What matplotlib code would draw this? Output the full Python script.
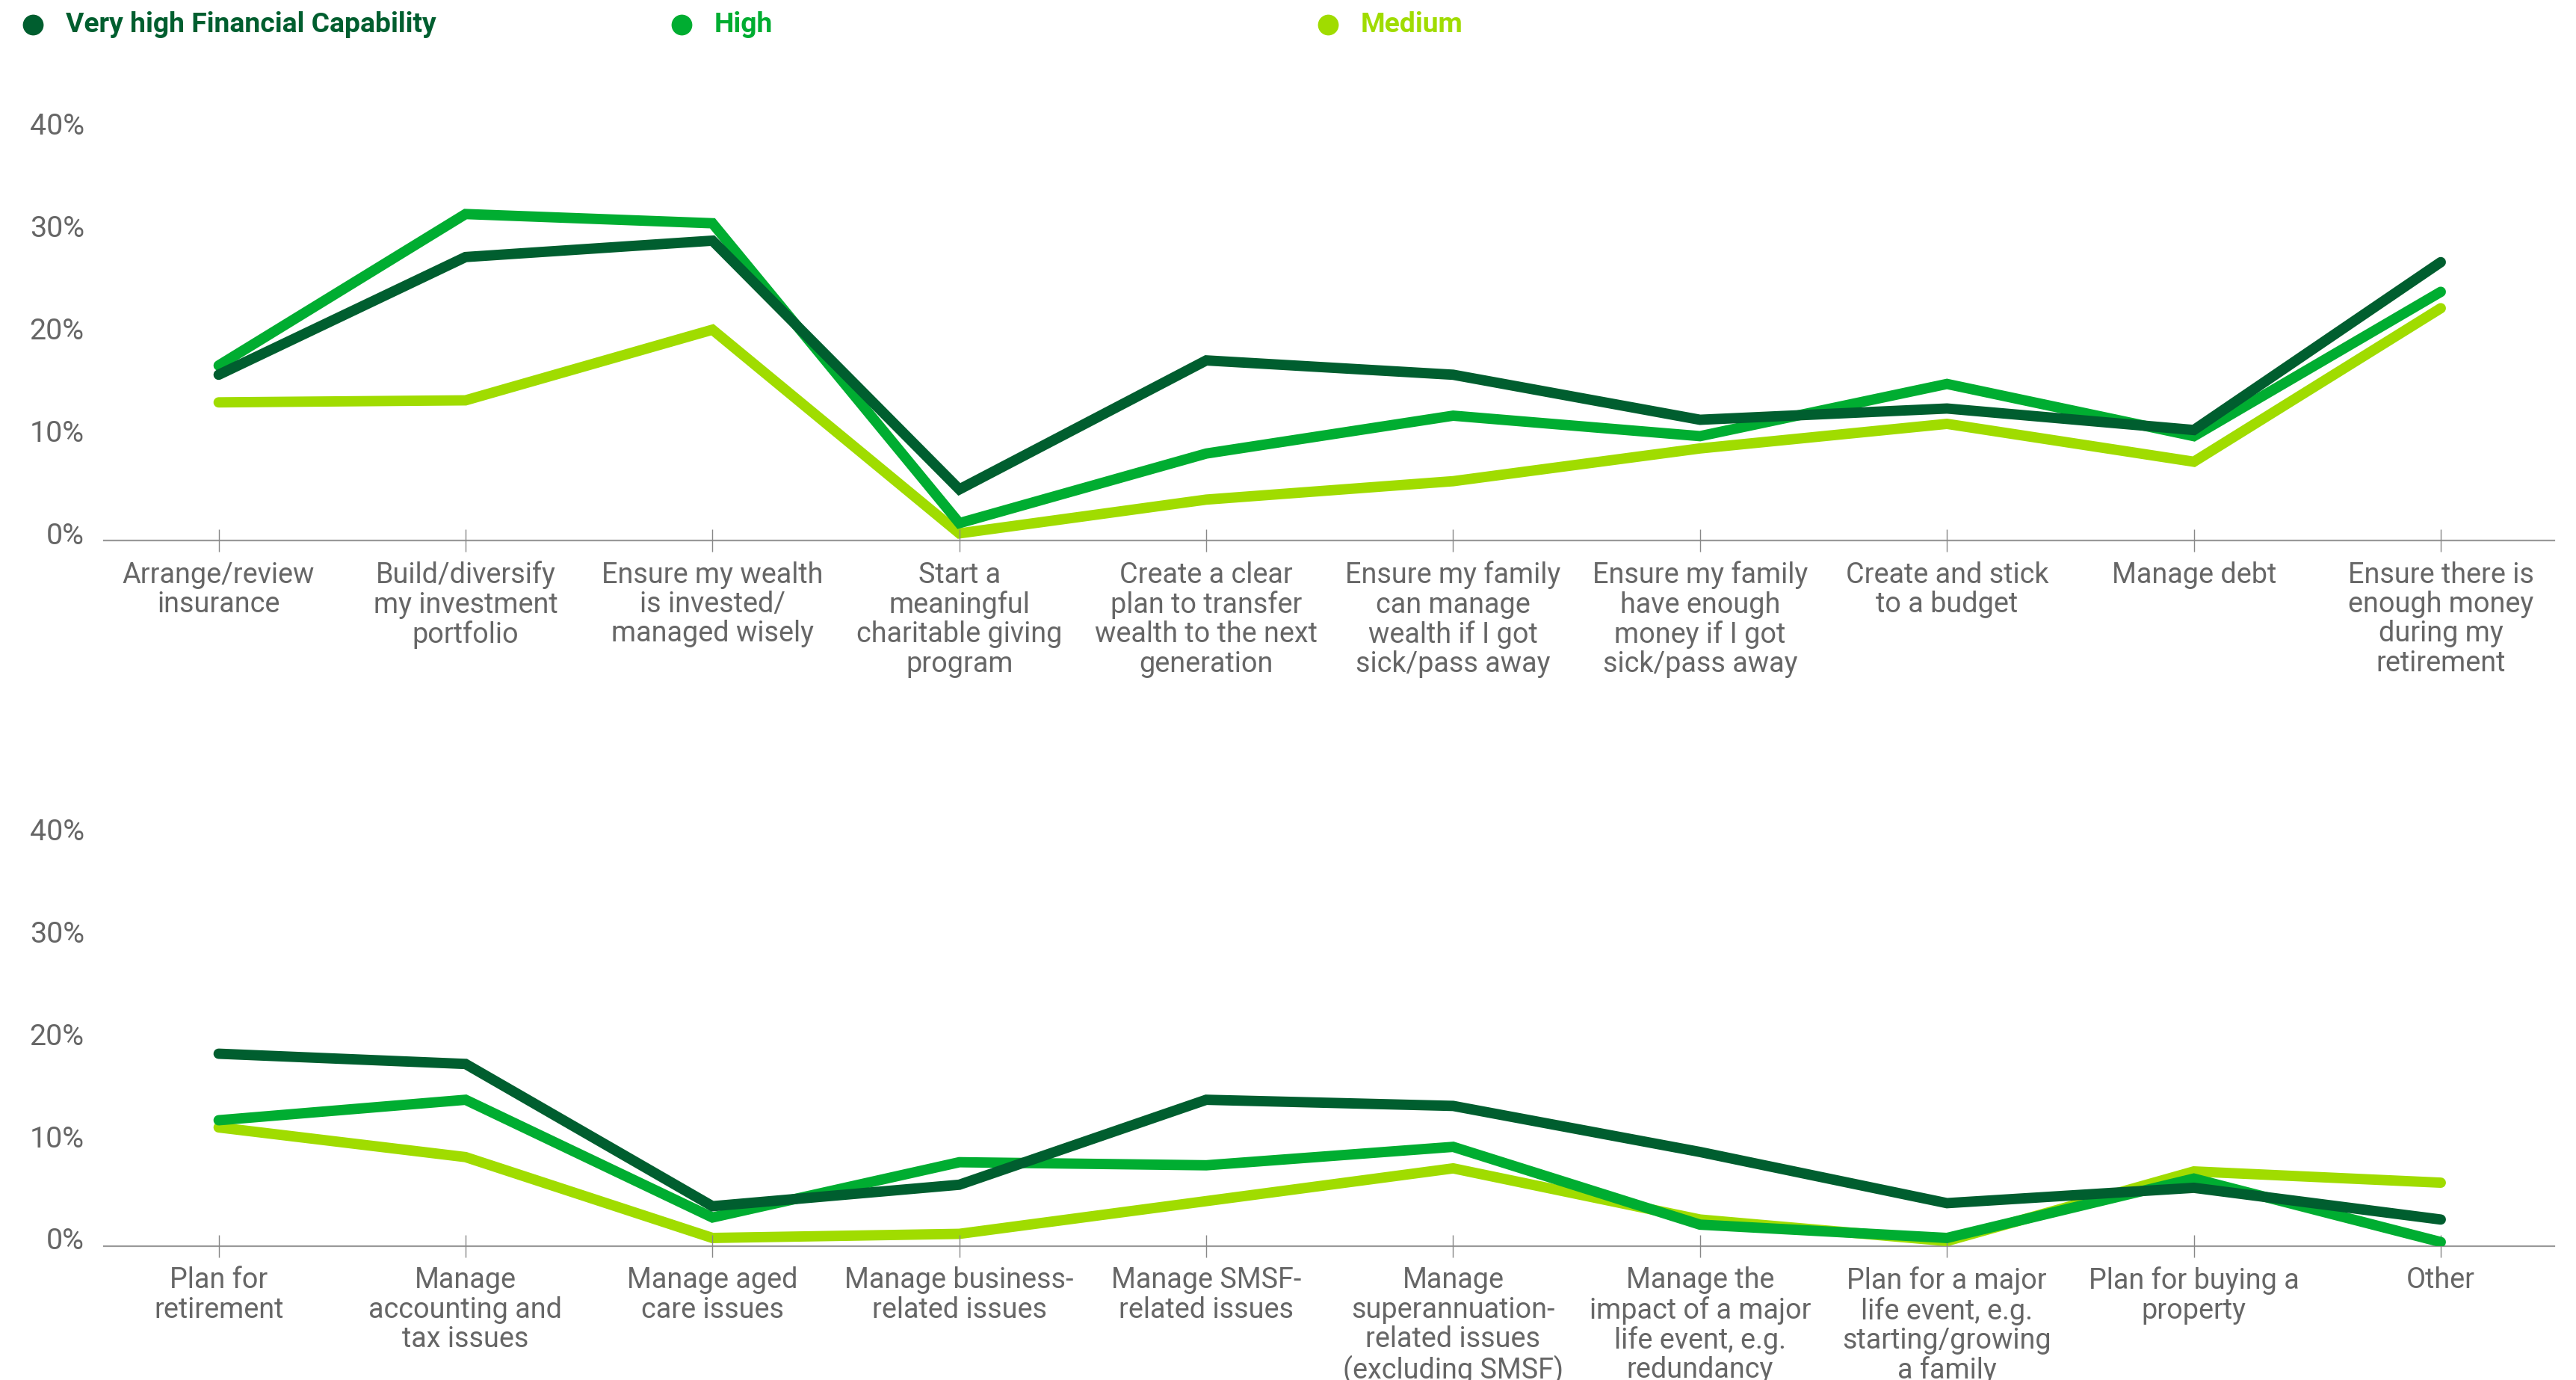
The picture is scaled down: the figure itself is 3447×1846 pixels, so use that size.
import matplotlib.pyplot as plt
from matplotlib.lines import Line2D
from matplotlib.transforms import ScaledTranslation

series_names = ['Very high Financial Capability', 'High', 'Medium']
colors = ['#005E2F', '#00AD31', '#A0DC00']

top_labels = [
    'Arrange/review\ninsurance',
    'Build/diversify\nmy investment\nportfolio',
    'Ensure my wealth\nis invested/\nmanaged wisely',
    'Start a\nmeaningful\ncharitable giving\nprogram',
    'Create a clear\nplan to transfer\nwealth to the next\ngeneration',
    'Ensure my family\ncan manage\nwealth if I got\nsick/pass away',
    'Ensure my family\nhave enough\nmoney if I got\nsick/pass away',
    'Create and stick\nto a budget',
    'Manage debt',
    'Ensure there is\nenough money\nduring my\nretirement',
]
top_very_high = [16.2, 27.7, 29.3, 5.0, 17.6, 16.2, 11.8, 12.9, 10.8, 27.2]
top_high = [17.1, 31.9, 31.0, 1.7, 8.5, 12.2, 10.2, 15.3, 10.2, 24.3]
top_medium = [13.5, 13.7, 20.6, 0.7, 4.0, 5.8, 9.0, 11.4, 7.7, 22.7]

bottom_labels = [
    'Plan for\nretirement',
    'Manage\naccounting and\ntax issues',
    'Manage aged\ncare issues',
    'Manage business-\nrelated issues',
    'Manage SMSF-\nrelated issues',
    'Manage\nsuperannuation-\nrelated issues\n(excluding SMSF)',
    'Manage the\nimpact of a major\nlife event, e.g.\nredundancy',
    'Plan for a major\nlife event, e.g.\nstarting/growing\na family',
    'Plan for buying a\nproperty',
    'Other',
]
bottom_very_high = [18.8, 17.8, 3.9, 6.0, 14.3, 13.7, 9.2, 4.2, 5.7, 2.6]
bottom_high = [12.3, 14.3, 2.8, 8.2, 7.9, 9.7, 2.1, 0.8, 6.6, 0.4]
bottom_medium = [11.6, 8.7, 0.8, 1.2, 4.4, 7.6, 2.6, 0.5, 7.3, 6.2]

y_ticks = [0, 10, 20, 30, 40]

plt.rcParams['font.family'] = ['Roboto', 'DejaVu Sans']
DPI = 200
fig = plt.figure(figsize=(3448 / DPI, 1846 / DPI), dpi=DPI)


def draw_panel(ax, labels, values):
    x = range(len(labels))
    # medium first so the darker series sit on top
    for vals, color, z in reversed(list(zip(values, colors, [3, 2, 1]))):
        ax.plot(x, vals, color=color, lw=5.0, solid_capstyle='round',
                solid_joinstyle='miter', zorder=z)
    ax.set_xlim(-0.465, len(labels) - 1 + 0.46)
    ax.set_ylim(0, 42)
    ax.set_xticks(list(x))
    ax.set_xticklabels(labels, fontsize=13.6, color='#666666', linespacing=1.08)
    ax.set_yticks(y_ticks)
    ax.set_yticklabels([f'{v}%' for v in y_ticks], fontsize=14.2, color='#666666')
    ax.tick_params(axis='x', direction='inout', length=10.8, width=0.5,
                   color='#888888', pad=4.5)
    ax.tick_params(axis='y', length=0, pad=9.4)
    for side in ['top', 'right', 'left']:
        ax.spines[side].set_visible(False)
    ax.spines['bottom'].set_color('#999999')
    ax.spines['bottom'].set_linewidth(0.8)
    ax.spines['bottom'].set_zorder(0)
    ax.patch.set_alpha(0)
    shift = ScaledTranslation(0, 10 / DPI, fig.dpi_scale_trans)
    for lab in ax.get_yticklabels():
        lab.set_transform(lab.get_transform() + shift)


ax_top = fig.add_axes([0.0403, 0.6083, 0.9510, 0.3115])
draw_panel(ax_top, top_labels, [top_very_high, top_high, top_medium])

ax_bottom = fig.add_axes([0.0403, 0.0970, 0.9510, 0.3115])
draw_panel(ax_bottom, bottom_labels, [bottom_very_high, bottom_high, bottom_medium])

# legend across the top
legend_x = [44, 912, 1777]
for name, color, px in zip(series_names, colors, legend_x):
    fig.add_artist(Line2D([px / 3448], [1 - 33 / 1846], marker='o', markersize=9,
                          color=color, linestyle='none', transform=fig.transFigure))
    fig.text((px + 44) / 3448, 1 - 33 / 1846, name, color=color, fontsize=13.4,
             fontweight='bold', va='center', ha='left')

fig.savefig('out.png', dpi=DPI)
